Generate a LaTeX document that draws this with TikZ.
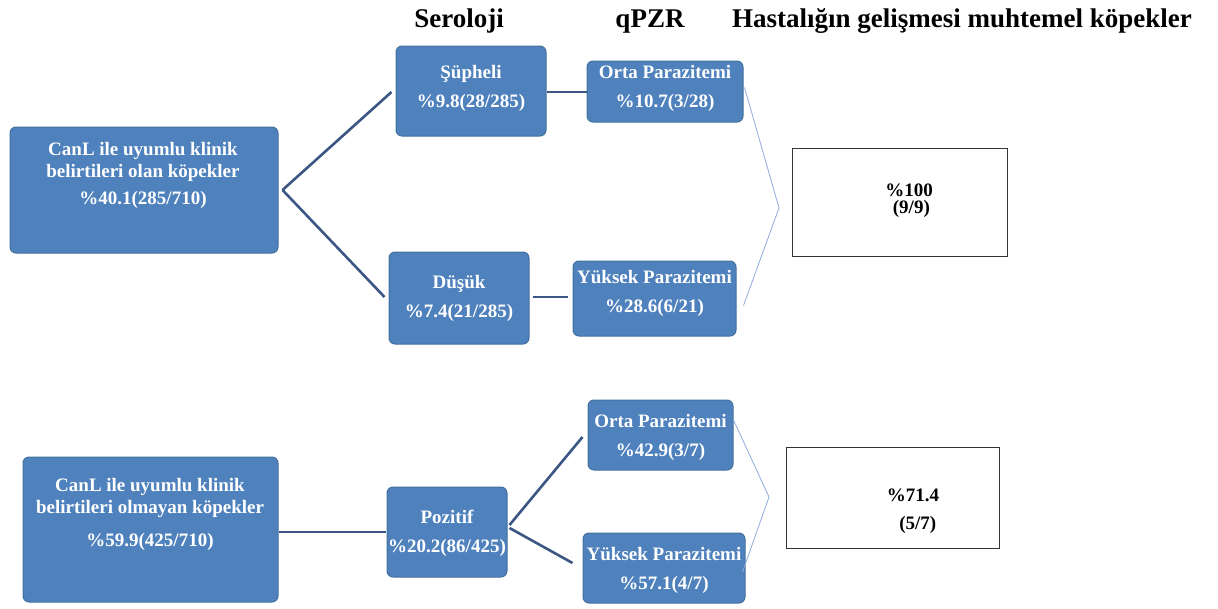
\documentclass[tikz,border=0pt]{standalone}
\usepackage{fontspec}
\setmainfont{Liberation Serif}
\usetikzlibrary{calc}
\definecolor{boxblue}{HTML}{4F81BD}
\definecolor{boxedge}{HTML}{41719C}
\definecolor{linkblue}{HTML}{3B5683}
\definecolor{bracket}{HTML}{8FAADC}
\tikzset{
  bluebox/.style={draw=boxedge, line width=1pt, fill=boxblue, rounded corners=6pt, inner sep=0pt},
  resultbox/.style={draw=black!80, line width=1pt, fill=white, inner sep=0pt},
  boxtext/.style={text=white, align=center, inner sep=0pt, font=\bfseries\fontsize{19}{29}\selectfont},
  bigtext/.style={text=white, align=center, inner sep=0pt, font=\bfseries\fontsize{19}{22}\selectfont},
  restext/.style={text=black, align=center, inner sep=0pt, font=\bfseries\fontsize{19}{17}\selectfont},
  header/.style={anchor=base, inner sep=0pt, font=\bfseries\fontsize{27}{30}\selectfont},
  link/.style={draw=linkblue, line width=2.6pt},
  brace/.style={draw=bracket, line width=0.8pt}
}
\begin{document}
\begin{tikzpicture}[x=1pt,y=-1pt]
\useasboundingbox (0,0) rectangle (1218,608);

% column headings
\node[header] (h1) at (459,27) {Seroloji};
\node[header] (h2) at (650,27) {qPZR};
\node[header] (h3) at (962,27) {Hastalığın gelişmesi muhtemel köpekler};

% dogs with clinical signs
\node[bluebox, minimum width=268pt, minimum height=126pt] (A1) at (144,190) {};
\node[bigtext] (A1t) at (143,175) {CanL ile uyumlu klinik\\belirtileri olan köpekler\\[5pt]\%40.1(285/710)};

\node[bluebox, minimum width=150pt, minimum height=90pt] (S1) at (471,91) {};
\node[boxtext] (S1t) at (471,88) {Şüpheli\\\%9.8(28/285)};

\node[bluebox, minimum width=156pt, minimum height=61pt] (Q1) at (665,91.5) {};
\node[boxtext] (Q1t) at (665,88) {Orta Parazitemi\\\%10.7(3/28)};

\node[bluebox, minimum width=140pt, minimum height=92pt] (S2) at (459,298) {};
\node[boxtext] (S2t) at (459,298) {Düşük\\\%7.4(21/285)};

\node[bluebox, minimum width=163pt, minimum height=75pt] (Q2) at (654.5,298.5) {};
\node[boxtext] (Q2t) at (654.5,293) {Yüksek Parazitemi\\\%28.6(6/21)};

\node[resultbox, minimum width=215pt, minimum height=108pt] (R1) at (899.5,202) {};
\node[restext] (R1t) at (909,201) {\%100\\\ (9/9)};

% dogs without clinical signs
\node[bluebox, minimum width=255pt, minimum height=145pt] (A2) at (150.5,529.5) {};
\node[bigtext] (A2t) at (150,514) {CanL ile uyumlu klinik\\belirtileri olmayan köpekler\\[11pt]\%59.9(425/710)};

\node[bluebox, minimum width=120pt, minimum height=90pt] (S3) at (447,532) {};
\node[boxtext] (S3t) at (447,533) {Pozitif\\\%20.2(86/425)};

\node[bluebox, minimum width=145pt, minimum height=70pt] (Q3) at (660.5,435) {};
\node[boxtext] (Q3t) at (660.5,437) {Orta Parazitemi\\\%42.9(3/7)};

\node[bluebox, minimum width=162pt, minimum height=70pt] (Q4) at (664,568) {};
\node[boxtext] (Q4t) at (664,570) {Yüksek Parazitemi\\\%57.1(4/7)};

\node[resultbox, minimum width=213pt, minimum height=101pt] (R2) at (892.5,497.5) {};
\node[restext, font=\bfseries\fontsize{19}{28}\selectfont] (R2t) at (913,511) {\%71.4\\\ \ (5/7)};

% branching connectors
\coordinate (j1) at ($(A1.east)+(4,0)$);
\draw[link] (j1) -- ($(S1.west)+(-4,1)$);
\draw[link] (j1) -- ($(S2.west)+(-4,-1)$);
\draw[link] ($(S1.east)+(0,1)$) -- ($(Q1.west)+(0,0.5)$);
\draw[link] ($(S2.east)+(3,-1)$) -- ($(Q2.west)+(-5,-1.5)$);

\draw[link] ($(A2.east)+(0,2.5)$) -- ($(S3.west)+(-1,0)$);
\coordinate (j2) at ($(S3.east)+(2,-7)$);
\coordinate (j3) at ($(S3.east)+(2,-4)$);
\draw[link] (j2) -- ($(Q3.west)+(-5,2)$);
\draw[link] (j3) -- ($(Q4.west)+(-10,-5)$);

% brackets towards the outcome boxes
\coordinate (c1) at (779,208);
\draw[brace] ($(Q1.east)+(1,-4)$) -- (c1) -- ($(Q2.east)+(7,7)$);
\coordinate (c2) at (769,497);
\draw[brace] ($(Q3.east)+(0,-15)$) -- (c2) -- ($(Q4.east)+(-3,4)$);
\end{tikzpicture}
\end{document}
